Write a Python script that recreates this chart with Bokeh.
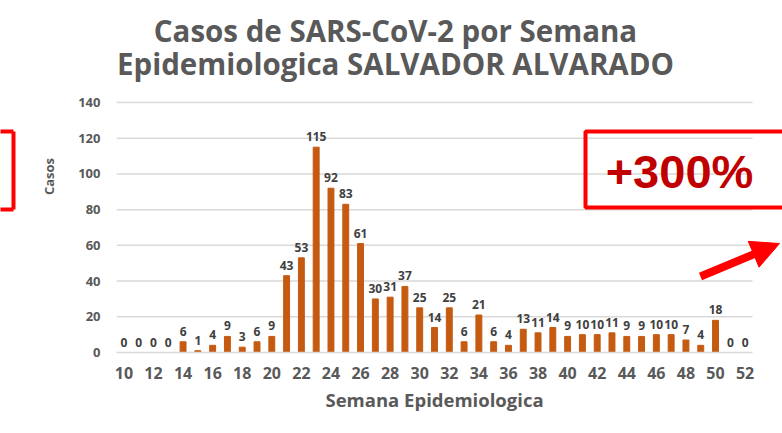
from bokeh.plotting import figure
from bokeh.models import (ColumnDataSource, Label, Arrow, NormalHead, FixedTicker, Range1d,
                          BoxAnnotation, LinearAxis, Title)
from bokeh.core.properties import value
from bokeh.embed import file_html
from bokeh.resources import INLINE

semanas = list(range(10, 53))
casos = [0, 0, 0, 0, 6, 1, 4, 9, 3, 6, 9, 43, 53, 115, 92, 83, 61, 30, 31, 37, 25,
         14, 25, 6, 21, 6, 4, 13, 11, 14, 9, 10, 10, 11, 9, 9, 10, 10, 7, 4, 18, 0, 0]
x_ticks = list(range(10, 53, 2))
y_ticks = list(range(0, 141, 20))
titulo_1 = "Casos de SARS-CoV-2 por Semana"
titulo_2 = "Epidemiologica SALVADOR ALVARADO"
eje_x = "Semana Epidemiologica"
eje_y = "Casos"
anotacion = "+300%"

src = ColumnDataSource(dict(x=semanas, y=casos, lbl=[str(c) for c in casos]))

FONT = "Open Sans"
GREY = "#595959"
RED = "#FF0000"

W, H = 782, 433
FL, FB = 116, 352          # frame left / bottom (page px)
PXW = 636 / 43             # px per week
PXY = 250 / 140            # px per case

X0 = semanas[0] - 0.5
X1 = semanas[-1] + 0.5


def dx(px):
    return X0 + (px - FL) / PXW


def dy(py):
    return (FB - py) / PXY


p = figure(width=W, height=H, x_range=Range1d(X0, dx(W)), y_range=Range1d(0, dy(0)),
           output_backend="svg", toolbar_location=None, title=None,
           min_border_left=FL, min_border_right=0, min_border_top=0, min_border_bottom=H - FB)
p.outline_line_color = None
p.background_fill_color = "white"
p.border_fill_color = "white"
p.xgrid.visible = False
p.ygrid.visible = False

# horizontal gridlines limited to the category span
gy = [t for t in y_ticks if t > 0]
p.segment(x0=[X0] * len(gy), x1=[X1] * len(gy), y0=gy, y1=gy, line_color="#d9d9d9", line_width=1.5)

p.vbar(x="x", top="y", width=0.4, source=src, color="#C55A11")
p.text(x="x", y="y", text="lbl", source=src, text_align="center", text_baseline="bottom",
       y_offset=-6, text_font=value(FONT), text_font_size="12px", text_font_style="bold",
       text_color="#404040")

p.xaxis.ticker = FixedTicker(ticks=x_ticks)
p.xaxis.bounds = (X0, X1)
p.xaxis.axis_line_color = "#d9d9d9"
p.xaxis.axis_line_width = 1.5
p.xaxis.major_tick_line_color = None
p.xaxis.minor_tick_line_color = None
p.xaxis.major_tick_out = 0
p.xaxis.major_label_standoff = 14
p.xaxis.major_label_text_font = FONT
p.xaxis.major_label_text_font_size = "16px"
p.xaxis.major_label_text_font_style = "bold"
p.xaxis.major_label_text_color = GREY

# x axis title, placed under the category span (frame extends further right for the overlay)
p.add_layout(Title(text=eje_x, align="left", offset=209, standoff=6,
                   text_font=FONT, text_font_size="18.5px", text_font_style="bold",
                   text_color=GREY), "below")

p.yaxis.ticker = FixedTicker(ticks=y_ticks)
p.yaxis.axis_line_color = None
p.yaxis.major_tick_line_color = None
p.yaxis.minor_tick_line_color = None
p.yaxis.major_tick_out = 0
p.yaxis.major_label_standoff = 16
p.yaxis.major_label_text_font = FONT
p.yaxis.major_label_text_font_size = "13px"
p.yaxis.major_label_text_font_style = "bold"
p.yaxis.major_label_text_color = GREY
p.yaxis.axis_label = eje_y
p.yaxis.axis_label_text_font = FONT
p.yaxis.axis_label_text_font_size = "13px"
p.yaxis.axis_label_text_font_style = "bold"
p.yaxis.axis_label_text_color = GREY
p.yaxis.axis_label_standoff = 17

# spacer + red bracket (left red box sliver) as extra left axes
sp_tick = dy(300)
spacer = LinearAxis(ticker=FixedTicker(ticks=[sp_tick]), axis_line_color=None,
                    major_tick_line_color="white", major_tick_line_width=1,
                    minor_tick_line_color=None, major_tick_out=24, major_tick_in=0,
                    major_label_standoff=0, major_label_overrides={sp_tick: ""},
                    major_label_text_color=None)
p.add_layout(spacer, "left")
rb = [dy(209), dy(131)]
red_ax = LinearAxis(ticker=FixedTicker(ticks=rb), bounds=(rb[0], rb[1]),
                    axis_line_color=RED, axis_line_width=4, major_tick_line_color=RED,
                    major_tick_line_width=4, major_tick_out=13, major_tick_in=0,
                    minor_tick_line_color=None, major_label_standoff=0,
                    major_label_overrides={rb[0]: "", rb[1]: ""}, major_label_text_color=None)
p.add_layout(red_ax, "left")

# title
for txt, py in [(titulo_1, 30), (titulo_2, 63)]:
    p.add_layout(Label(x=dx(395), y=dy(py), text=txt, text_align="center", text_baseline="middle",
                       text_font=FONT, text_font_size="29.5px", text_font_style="bold",
                       text_color=GREY))

# red box with +300%
p.add_layout(BoxAnnotation(left=dx(585), right=dx(800), top=dy(131), bottom=dy(207),
                           fill_alpha=0, line_color=RED, line_alpha=1, line_width=4))
p.add_layout(Label(x=dx(679), y=dy(171), text=anotacion, text_align="center", text_baseline="middle",
                   text_font="Liberation Sans", text_font_size="47px", text_font_style="bold",
                   text_color="#C00000"))

# arrow
p.add_layout(Arrow(end=NormalHead(size=28, fill_color=RED, line_color=RED),
                   x_start=dx(700), y_start=dy(276), x_end=dx(779), y_end=dy(243),
                   line_color=RED, line_width=8))

open("out.html", "w").write(file_html(p, INLINE))
